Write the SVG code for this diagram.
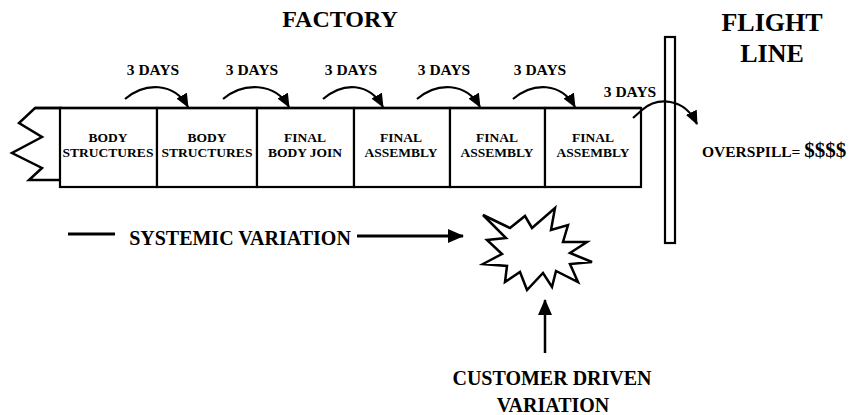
<svg xmlns="http://www.w3.org/2000/svg" width="858" height="415" viewBox="0 0 858 415">
  <style>
    .t { font-family: "Liberation Serif", "DejaVu Serif", serif; font-weight: bold; fill: #000; text-anchor: middle; }
    .ts { font-family: "Liberation Serif", "DejaVu Serif", serif; font-weight: bold; fill: #000; text-anchor: start; }
    .ln { fill: none; stroke: #000; stroke-width: 2.5; stroke-linejoin: miter; }
    .arc { fill: none; stroke: #000; stroke-width: 2.2; }
    .box { fill: #fff; stroke: #000; stroke-width: 2.2; }
  </style>
  <defs>
    <marker id="head" viewBox="0 0 14 12" refX="13" refY="6" markerWidth="14" markerHeight="12" markerUnits="userSpaceOnUse" orient="auto">
      <path d="M0,0 L14,6 L0,12 Z" fill="#000"/>
    </marker>
    <marker id="headBig" viewBox="0 0 16 14" refX="15" refY="7" markerWidth="16" markerHeight="14" markerUnits="userSpaceOnUse" orient="auto">
      <path d="M0,0 L16,7 L0,14 Z" fill="#000"/>
    </marker>
  </defs>
  <rect width="858" height="415" fill="#fff"/>

  <!-- headings -->
  <text class="t" x="340" y="27" font-size="24">FACTORY</text>
  <text class="t" x="772" y="31" font-size="26">FLIGHT</text>
  <text class="t" x="772" y="62" font-size="26">LINE</text>

  <!-- broken-off start of the line -->
  <path id="break" class="ln" d="M62,108 L35,108 L19,123 L42,137 L12,153 L42,168 L29,180 L60,180"/>

  <!-- stations -->
  <g id="station1"><rect class="box" x="60" y="108" width="97" height="79"/>
    <text class="t" x="108" y="142" font-size="13.5">BODY</text>
    <text class="t" x="108" y="157" font-size="13.5">STRUCTURES</text></g>
  <g id="station2"><rect class="box" x="157" y="108" width="100" height="79"/>
    <text class="t" x="207" y="142" font-size="13.5">BODY</text>
    <text class="t" x="207" y="157" font-size="13.5">STRUCTURES</text></g>
  <g id="station3"><rect class="box" x="257" y="108" width="97" height="79"/>
    <text class="t" x="305" y="142" font-size="13.5">FINAL</text>
    <text class="t" x="305" y="157" font-size="13.5">BODY JOIN</text></g>
  <g id="station4"><rect class="box" x="354" y="108" width="96" height="79"/>
    <text class="t" x="401" y="142" font-size="13.5">FINAL</text>
    <text class="t" x="401" y="157" font-size="13.5">ASSEMBLY</text></g>
  <g id="station5"><rect class="box" x="450" y="108" width="95" height="79"/>
    <text class="t" x="497" y="142" font-size="13.5">FINAL</text>
    <text class="t" x="497" y="157" font-size="13.5">ASSEMBLY</text></g>
  <g id="station6"><rect class="box" x="545" y="108" width="96" height="79"/>
    <text class="t" x="593" y="142" font-size="13.5">FINAL</text>
    <text class="t" x="593" y="157" font-size="13.5">ASSEMBLY</text></g>
  <line class="ln" x1="35" y1="108" x2="641" y2="108" stroke-width="3"/>

  <!-- flight line barrier -->
  <g id="barrier"><rect x="665" y="37" width="10" height="206" fill="#fff" stroke="#000" stroke-width="2.2"/></g>

  <!-- labels -->
  <g id="labels">
    <text class="t" x="153" y="75" font-size="15.5">3 DAYS</text>
    <text class="t" x="252" y="75" font-size="15.5">3 DAYS</text>
    <text class="t" x="351" y="75" font-size="15.5">3 DAYS</text>
    <text class="t" x="444" y="75" font-size="15.5">3 DAYS</text>
    <text class="t" x="540" y="75" font-size="15.5">3 DAYS</text>
    <text class="t" x="630" y="97" font-size="15.5">3 DAYS</text>
    <text class="ts" x="702" y="157" font-size="15.5">OVERSPILL= <tspan font-size="21">$$$$</tspan></text>
    <text class="t" x="240" y="245" font-size="20">SYSTEMIC VARIATION</text>
    <text class="t" x="552" y="385" font-size="20">CUSTOMER DRIVEN</text>
    <text class="t" x="553" y="412" font-size="20">VARIATION</text>
  </g>

  <!-- disruption -->
  <g id="burst">
    <polygon points="483,215 510,228 525,216 532,228 555,208 551,230 568,225 563,242 587,242 570,253 592,262 570,264 578,282 556,271 552,287 543,273 527,290 520,272 505,282 507,266 483,264 502,254 487,240 506,238" fill="#fff" stroke="#000" stroke-width="2.5" stroke-linejoin="miter"/>
  </g>

  <!-- connectors -->
  <g id="connectors">
    <path class="arc" d="M125,99 C145,82 174,82 188,107" marker-end="url(#head)"/>
    <path class="arc" d="M223,99 C243,82 275,82 289,107" marker-end="url(#head)"/>
    <path class="arc" d="M323,99 C343,82 369,82 383,107" marker-end="url(#head)"/>
    <path class="arc" d="M417,99 C437,82 466,82 480,107" marker-end="url(#head)"/>
    <path class="arc" d="M513,99 C533,82 561,82 575,107" marker-end="url(#head)"/>
    <path class="arc" d="M633,118 L642,110 C657,97 684,97 697,124" marker-end="url(#head)"/>
    <line x1="68" y1="234" x2="115" y2="234" stroke="#000" stroke-width="3"/>
    <line x1="357" y1="236" x2="463" y2="236" stroke="#000" stroke-width="3" marker-end="url(#headBig)"/>
    <line x1="545" y1="353" x2="545" y2="300" stroke="#000" stroke-width="2.5" marker-end="url(#headBig)"/>
  </g>
</svg>
